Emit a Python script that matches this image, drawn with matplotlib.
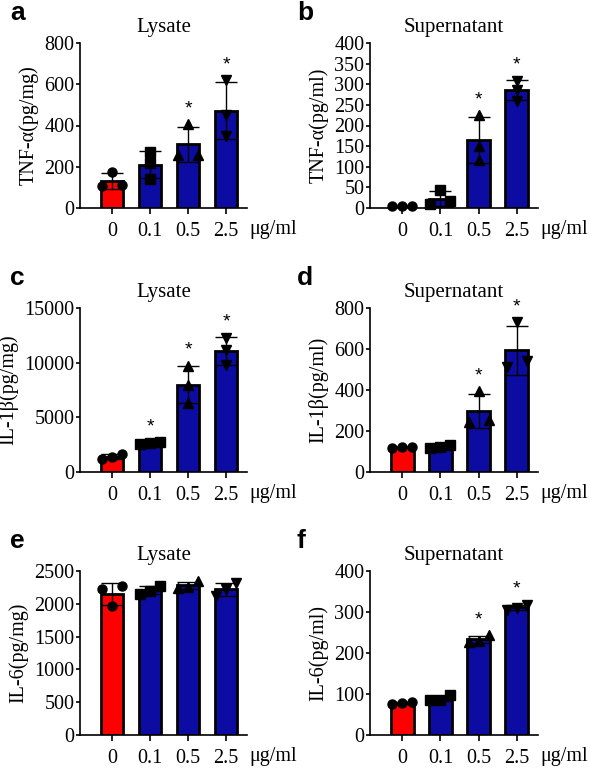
import numpy as np
import matplotlib
matplotlib.use('Agg')
import matplotlib.pyplot as plt

plt.rcParams['font.family'] = ['Liberation Serif', 'DejaVu Serif']

# ---- data ----
doses = ['0', '0.1', '0.5', '2.5']
unit_label = 'μg/ml'

tnf_lysate = [[173, 112, 105], [270, 218, 142], [407, 259, 259], [619, 452, 347]]
tnf_super = [[6, 5, 6], [43, 16, 10], [225, 150, 116], [309, 287, 260]]
il1b_lysate = [[1670, 1366, 1184], [2750, 2650, 2600], [9717, 7956, 6286], [12300, 11150, 9750]]
il1b_super = [[122, 120, 118], [132, 120, 118], [395, 255, 245], [732, 540, 510]]
il6_lysate = [[2270, 2230, 1960], [2270, 2150, 2200], [2343, 2246, 2256], [2320, 2230, 2115]]
il6_super = [[80, 76, 78], [97, 85, 86], [243, 228, 230], [318, 310, 305]]

panels = [
    dict(letter='a', title='Lysate', ylabel='TNF-α(pg/mg)', data=tnf_lysate,
         yticks=np.arange(0, 801, 200), stars=[2, 3]),
    dict(letter='b', title='Supernatant', ylabel='TNF-α(pg/ml)', data=tnf_super,
         yticks=np.arange(0, 401, 50), stars=[2, 3]),
    dict(letter='c', title='Lysate', ylabel='IL-1β(pg/mg)', data=il1b_lysate,
         yticks=np.arange(0, 15001, 5000), stars=[1, 2, 3]),
    dict(letter='d', title='Supernatant', ylabel='IL-1β(pg/ml)', data=il1b_super,
         yticks=np.arange(0, 801, 200), stars=[2, 3]),
    dict(letter='e', title='Lysate', ylabel='IL-6(pg/mg)', data=il6_lysate,
         yticks=np.arange(0, 2501, 500), stars=[]),
    dict(letter='f', title='Supernatant', ylabel='IL-6(pg/ml)', data=il6_super,
         yticks=np.arange(0, 401, 100), stars=[2, 3]),
]

RED = '#FF0000'
BLUE = '#0C0CA2'
markers = ['o', 's', '^', 'v']

W, H = 590, 768
fig = plt.figure(figsize=(W / 100, H / 100), dpi=100)

# axes boxes in pixels: (left, right) and (top, bottom)
col_x = [(80, 247), (370, 538)]
row_y = [(43, 208), (308, 472), (571, 735)]


def spread(vals, ymax):
    # push overlapping points sideways, like a dot plot
    offs = np.zeros(len(vals))
    order = np.argsort(vals)
    groups, cur = [], [order[0]]
    for k in order[1:]:
        if abs(vals[k] - vals[cur[-1]]) < 0.05 * ymax:
            cur.append(k)
        else:
            groups.append(cur)
            cur = [k]
    groups.append(cur)
    step = 0.26
    for g in groups:
        n = len(g)
        if n == 1:
            continue
        pos = np.linspace(-step, step, n) if n > 2 else np.array([-step, step])
        for k, p in zip(g, pos):
            offs[k] = p
    return offs


for i, p in enumerate(panels):
    r, c = divmod(i, 2)
    x0, x1 = col_x[c]
    yt, yb = row_y[r]
    ax = fig.add_axes([x0 / W, 1 - yb / H, (x1 - x0) / W, (yb - yt) / H])
    ymax = p['yticks'][-1]
    xs = np.arange(len(doses))
    means = [np.mean(v) for v in p['data']]
    sds = [np.std(v, ddof=1) for v in p['data']]
    colors = [RED] + [BLUE] * 3
    ax.bar(xs, means, width=0.6, color=colors, edgecolor='black', linewidth=2.0, zorder=2)
    ax.errorbar(xs, means, yerr=sds, fmt='none', ecolor='black', elinewidth=1.0,
                capsize=8, capthick=1.0, zorder=3)
    for j, vals in enumerate(p['data']):
        offs = spread(np.array(vals, dtype=float), ymax)
        ax.plot(xs[j] + offs, vals, linestyle='none', marker=markers[j], color='black',
                markersize=6.5, zorder=4, clip_on=False)
    for j in p['stars']:
        top = max(means[j] + sds[j], max(p['data'][j]))
        ax.annotate('*', xy=(xs[j], top), xytext=(0, 5), textcoords='offset points',
                    ha='center', va='bottom', fontsize=14, family='Liberation Sans')

    ax.set_xlim(-0.84, 3.55)
    ax.set_ylim(0, ymax)
    ax.set_yticks(p['yticks'])
    ax.set_xticks(xs)
    ax.set_xticklabels(doses)
    for s in ['top', 'right']:
        ax.spines[s].set_visible(False)
    for s in ['left', 'bottom']:
        ax.spines[s].set_linewidth(1.2)
    ax.tick_params(axis='y', length=3, width=1.2, pad=1, labelsize=14.5)
    ax.tick_params(axis='x', length=4, width=1.2, pad=6, labelsize=14.5)
    ax.set_ylabel(p['ylabel'], fontsize=14.5, labelpad=4)
    ax.set_title(p['title'], fontsize=15, pad=8)
    ax.annotate(unit_label, xy=(1.0, 0), xycoords='axes fraction', xytext=(2, -8.5),
                textcoords='offset points', ha='left', va='top', fontsize=14.5)
    fig.text((x0 - 70 if c == 0 else x0 - 73) / W, 1 - (yt - 23) / H, p['letter'],
             fontsize=19, fontweight='bold', family='Liberation Sans', va='baseline')

fig.savefig('out.png', dpi=100)
